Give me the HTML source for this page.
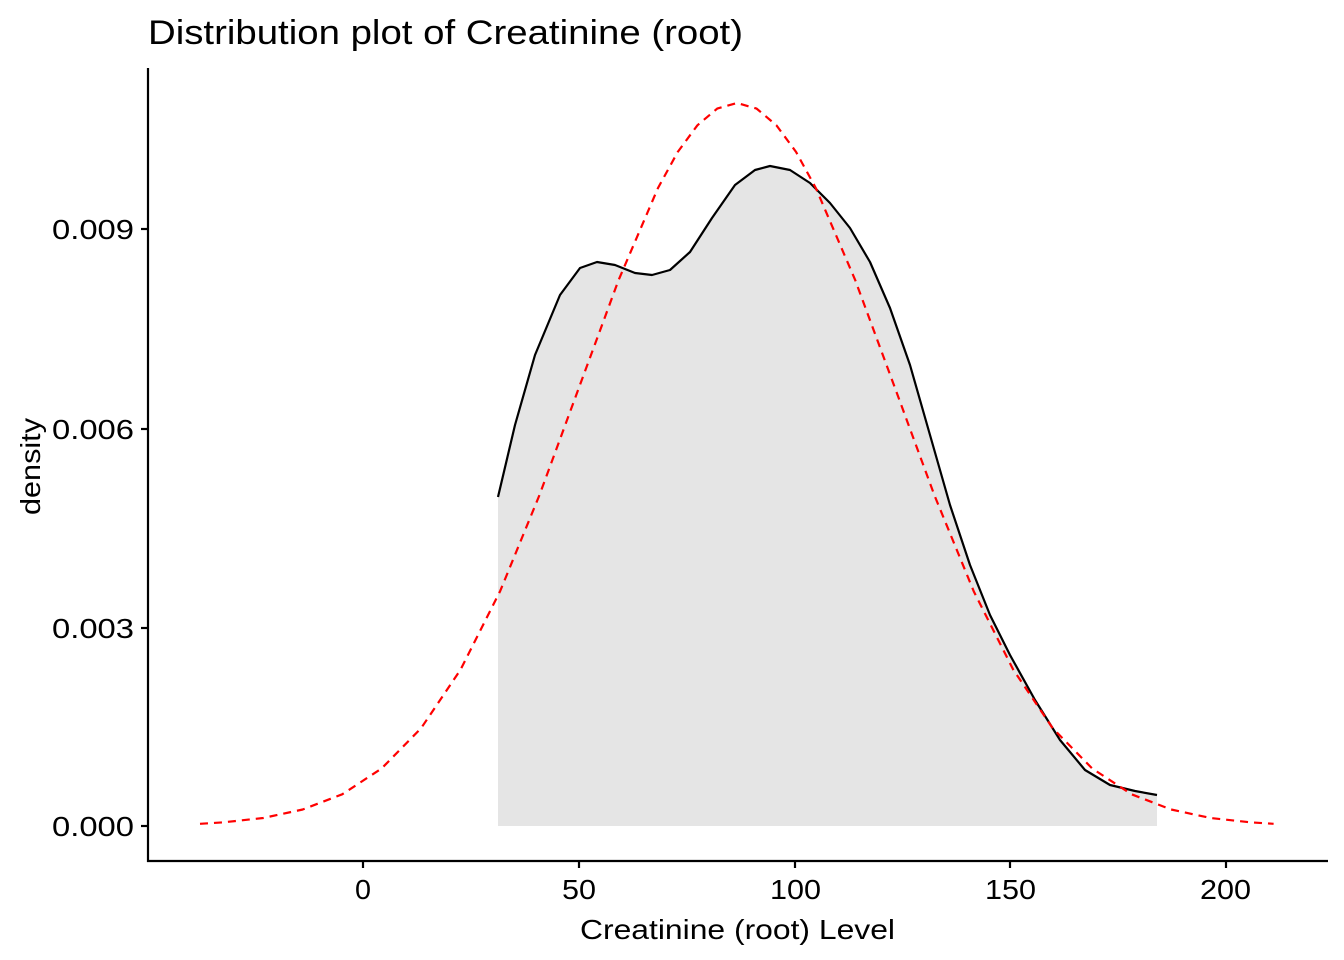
<!DOCTYPE html>
<html><head><meta charset="utf-8"><style>
html,body{margin:0;padding:0;background:#fff;}
svg{display:block;font-family:"Liberation Sans",Arial,sans-serif;}
</style></head><body>
<svg width="1344" height="960" viewBox="0 0 1344 960" xmlns="http://www.w3.org/2000/svg">
<rect width="1344" height="960" fill="#fff"/>
<polygon fill="#e5e5e5" stroke="none" points="498,497 515,425 535,355 560,295 580,268 597,262 615,265 635,273 652,275 670,270 690,252 712,218 735,185 755,170 770,166 790,170 810,183 830,203 850,228 870,262 890,308 910,365 930,435 950,505 970,565 990,615 1010,655 1035,700 1060,740 1085,770 1110,785 1135,791 1157,795 1157,826 498,826"/>
<polyline fill="none" stroke="#000" stroke-width="2.2" stroke-linejoin="round" points="498,497 515,425 535,355 560,295 580,268 597,262 615,265 635,273 652,275 670,270 690,252 712,218 735,185 755,170 770,166 790,170 810,183 830,203 850,228 870,262 890,308 910,365 930,435 950,505 970,565 990,615 1010,655 1035,700 1060,740 1085,770 1110,785 1135,791 1157,795"/>
<polyline fill="none" stroke="#ff0000" stroke-width="2.2" stroke-dasharray="8,6" stroke-linejoin="round" points="200,823.8 223.7,822.3 263.2,818 302.7,809.5 342.2,794.3 381.6,768.5 421.1,728.2 460.6,669.6 500.1,591.2 539.5,495 579,387.5 618.5,280.3 658,188 677.7,152 697.4,125.3 717.2,108.6 736.9,103 756.6,108.6 776.4,125.3 796.1,152 815.8,188 855.3,280.3 894.8,387.5 934.3,495 973.7,591.2 1013.2,669.6 1052.7,728.2 1092.2,768.5 1131.6,794.3 1171.1,809.5 1210.6,818 1250.1,822.3 1273.6,823.8"/>
<line x1="148" y1="68" x2="148" y2="862" stroke="#000" stroke-width="2.2"/>
<line x1="147" y1="861" x2="1328" y2="861" stroke="#000" stroke-width="2.2"/>
<g stroke="#000" stroke-width="2.2">
<line x1="141" y1="826" x2="148" y2="826"/><line x1="141" y1="628" x2="148" y2="628"/>
<line x1="141" y1="429" x2="148" y2="429"/><line x1="141" y1="229" x2="148" y2="229"/>
<line x1="363" y1="861" x2="363" y2="868"/><line x1="579" y1="861" x2="579" y2="868"/>
<line x1="795" y1="861" x2="795" y2="868"/><line x1="1010" y1="861" x2="1010" y2="868"/>
<line x1="1226" y1="861" x2="1226" y2="868"/>
</g>
<g font-size="28" fill="#000" text-anchor="end">
<text x="134" y="836" textLength="82" lengthAdjust="spacingAndGlyphs">0.000</text>
<text x="134" y="638" textLength="82" lengthAdjust="spacingAndGlyphs">0.003</text>
<text x="134" y="439" textLength="82" lengthAdjust="spacingAndGlyphs">0.006</text>
<text x="134" y="239" textLength="82" lengthAdjust="spacingAndGlyphs">0.009</text>
</g>
<g font-size="28" fill="#000">
<text x="355" y="899" textLength="16" lengthAdjust="spacingAndGlyphs">0</text>
<text x="562" y="899" textLength="34" lengthAdjust="spacingAndGlyphs">50</text>
<text x="770" y="899" textLength="51" lengthAdjust="spacingAndGlyphs">100</text>
<text x="985" y="899" textLength="51" lengthAdjust="spacingAndGlyphs">150</text>
<text x="1200" y="899" textLength="51" lengthAdjust="spacingAndGlyphs">200</text>
<text x="580" y="939" textLength="315" lengthAdjust="spacingAndGlyphs">Creatinine (root) Level</text>
<text transform="translate(40,515) rotate(-90)" textLength="97" lengthAdjust="spacingAndGlyphs">density</text>
</g>
<text x="148" y="44" font-size="34" fill="#000" textLength="595" lengthAdjust="spacingAndGlyphs">Distribution plot of Creatinine (root)</text>
</svg>
</body></html>
